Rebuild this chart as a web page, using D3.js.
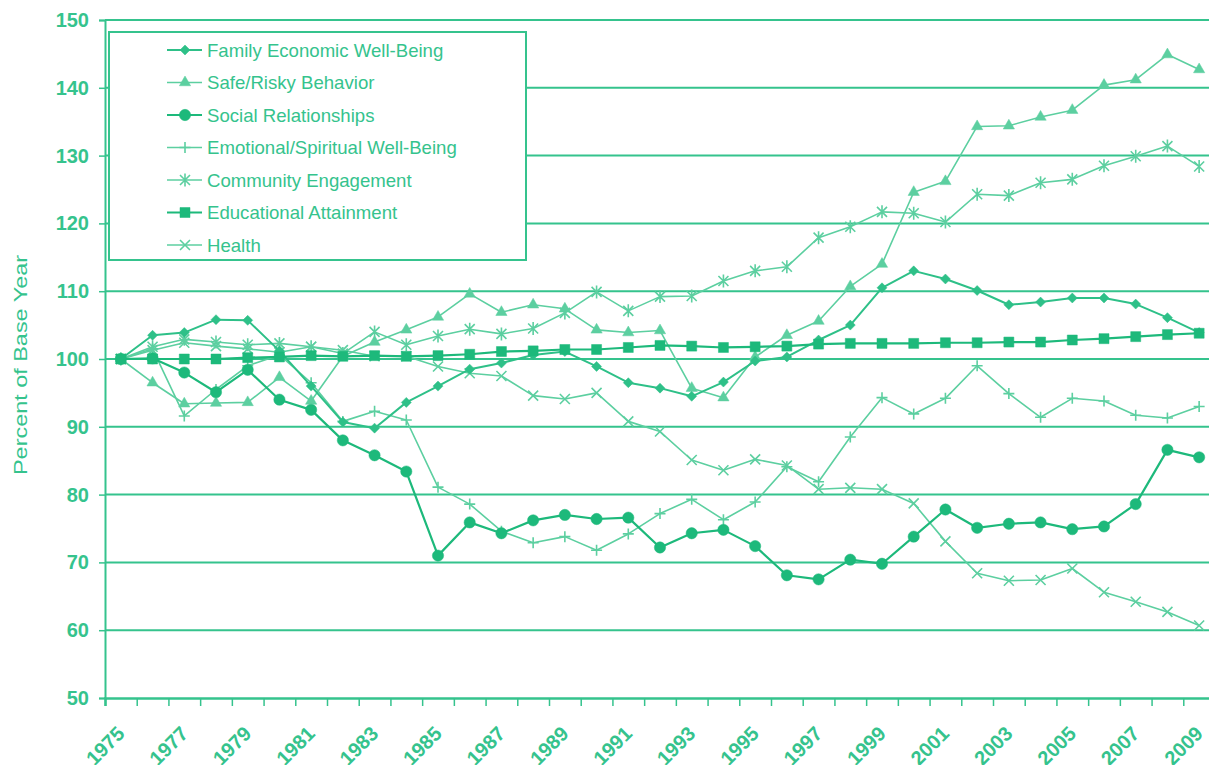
<!DOCTYPE html>
<html>
<head>
<meta charset="utf-8">
<script src="https://cdn.jsdelivr.net/npm/d3@7"></script>
<style>
  html, body { margin: 0; padding: 0; background: #fff; }
  svg { display: block; font-family: "Liberation Sans", Arial, sans-serif; }
</style>
</head>
<body>
<div class="chart"></div>
<script>
var svgWidth = 1209;
var svgHeight = 765;

// Data (percent of base year 1975)
var years = d3.range(1975, 2010);
var yTicks = [50, 60, 70, 80, 90, 100, 110, 120, 130, 140, 150];

var familyEconomic = [100, 103.5, 103.9, 105.8, 105.7, 101.2, 96.0, 90.7, 89.8, 93.6, 96.0, 98.5, 99.4, 100.6, 101.1, 98.9, 96.5, 95.7, 94.5, 96.6, 99.7, 100.3, 102.8, 105.0, 110.5, 113.0, 111.8, 110.1, 108.0, 108.4, 109.0, 109.0, 108.1, 106.1, 103.9];
var safeRisky = [100, 96.5, 93.4, 93.5, 93.6, 97.3, 93.8, 100.4, 102.5, 104.3, 106.2, 109.6, 106.9, 108.0, 107.4, 104.3, 103.9, 104.2, 95.7, 94.3, 100.3, 103.5, 105.6, 110.7, 114.0, 124.6, 126.2, 134.3, 134.4, 135.7, 136.7, 140.4, 141.2, 144.9, 142.7];
var socialRelationships = [100, 100.1, 98.0, 95.1, 98.4, 94.0, 92.5, 88.0, 85.8, 83.4, 71.0, 75.9, 74.3, 76.2, 77.0, 76.4, 76.6, 72.2, 74.3, 74.8, 72.4, 68.1, 67.5, 70.4, 69.8, 73.8, 77.8, 75.1, 75.7, 75.9, 74.9, 75.3, 78.6, 86.6, 85.5];
var emotionalSpiritual = [100, 101.5, 91.6, 95.5, 99.0, 100.6, 96.5, 90.8, 92.3, 91.0, 81.1, 78.6, 74.6, 72.9, 73.8, 71.8, 74.2, 77.2, 79.3, 76.3, 78.9, 84.1, 81.9, 88.5, 94.3, 91.9, 94.2, 99.0, 94.9, 91.4, 94.2, 93.8, 91.7, 91.3, 93.0];
var communityEngagement = [100, 101.8, 102.9, 102.5, 102.1, 102.3, 101.8, 100.8, 104.0, 102.1, 103.4, 104.4, 103.7, 104.5, 106.8, 109.9, 107.1, 109.2, 109.3, 111.5, 113.0, 113.6, 117.9, 119.5, 121.7, 121.5, 120.2, 124.3, 124.1, 126.0, 126.5, 128.5, 129.9, 131.4, 128.4];
var educationalAttainment = [100, 100.0, 100.0, 100.0, 100.2, 100.3, 100.5, 100.4, 100.5, 100.4, 100.5, 100.7, 101.1, 101.2, 101.4, 101.4, 101.7, 102.0, 101.9, 101.7, 101.8, 101.9, 102.2, 102.3, 102.3, 102.3, 102.4, 102.4, 102.5, 102.5, 102.8, 103.0, 103.3, 103.6, 103.8];
var health = [100, 101.3, 102.4, 101.9, 101.5, 101.0, 101.8, 101.3, 100.4, 100.4, 98.9, 97.9, 97.5, 94.6, 94.1, 95.0, 90.8, 89.3, 85.1, 83.6, 85.2, 84.3, 80.8, 81.0, 80.8, 78.7, 73.1, 68.4, 67.3, 67.4, 69.1, 65.6, 64.2, 62.7, 60.7];

var dark = "#1db97b";
var mid = "#2ec088";
var light = "#5ccfa0";
var axisColor = "#35c38d";

var paths = {
  diamond: "M0,-5L5,0L0,5L-5,0Z",
  plus: "M-5.5,0H5.5M0,-5.5V5.5",
  cross: "M-5,-5L5,5M-5,5L5,-5",
  star: "M-5,-5L5,5M-5,5L5,-5M0,-6.5V6.5"
};

var seriesList = [
  { name: "Family Economic Well-Being", values: familyEconomic, color: mid, width: 2, path: paths.diamond, fill: true },
  { name: "Safe/Risky Behavior", values: safeRisky, color: light, width: 1.6, sym: d3.symbolTriangle, size: 55, fill: true },
  { name: "Social Relationships", values: socialRelationships, color: dark, width: 2.2, sym: d3.symbolCircle, size: 100, fill: true },
  { name: "Emotional/Spiritual Well-Being", values: emotionalSpiritual, color: light, width: 1.6, path: paths.plus, fill: false },
  { name: "Community Engagement", values: communityEngagement, color: light, width: 1.6, path: paths.star, fill: false },
  { name: "Educational Attainment", values: educationalAttainment, color: dark, width: 2.2, sym: d3.symbolSquare, size: 100, fill: true },
  { name: "Health", values: health, color: light, width: 1.6, path: paths.cross, fill: false }
];

var plot = { left: 105, right: 1215, top: 20, bottom: 698 };

var svg = d3.select(".chart")
  .append("svg")
  .attr("width", svgWidth)
  .attr("height", svgHeight);

var x = d3.scaleLinear()
  .domain([years[0] - 0.5, years[years.length - 1] + 0.5])
  .range([plot.left, plot.right]);

var y = d3.scaleLinear()
  .domain([50, 150])
  .range([plot.bottom, plot.top]);

// gridlines
svg.append("g")
  .selectAll("line")
  .data(yTicks.slice(1))
  .enter()
  .append("line")
  .attr("x1", plot.left)
  .attr("x2", plot.right)
  .attr("y1", d => y(d))
  .attr("y2", d => y(d))
  .attr("stroke", axisColor)
  .attr("stroke-width", 2);

// y axis
var leftAxis = d3.axisLeft(y).tickValues(yTicks).tickSize(6).tickPadding(10);
var gy = svg.append("g")
  .attr("transform", `translate(${plot.left}, 0)`)
  .call(leftAxis);
gy.select(".domain").attr("stroke", axisColor).attr("stroke-width", 2);
gy.selectAll(".tick line").attr("stroke", axisColor).attr("stroke-width", 1.5);
gy.selectAll(".tick text")
  .attr("fill", axisColor)
  .attr("font-size", 20)
  .attr("font-weight", "bold")
  .attr("font-family", "Liberation Sans, Arial, sans-serif");

// x axis: ticks between categories
var boundaries = d3.range(years[0] - 0.5, years[years.length - 1] + 1, 1);
var bottomAxis = d3.axisBottom(x).tickValues(boundaries).tickSize(8).tickFormat("");
var gx = svg.append("g")
  .attr("transform", `translate(0, ${plot.bottom})`)
  .call(bottomAxis);
gx.select(".domain").attr("stroke", axisColor).attr("stroke-width", 2.5);
gx.selectAll(".tick line").attr("stroke", axisColor).attr("stroke-width", 1.5);

// x labels every other year
var labelYears = years.filter((d, i) => i % 2 === 0);
svg.append("g")
  .selectAll("text")
  .data(labelYears)
  .enter()
  .append("text")
  .attr("transform", d => `translate(${x(d) + 5}, ${plot.bottom + 37}) rotate(-45)`)
  .attr("text-anchor", "end")
  .attr("fill", axisColor)
  .attr("font-size", 20)
  .attr("font-weight", "bold")
  .text(d => d);

// y title
svg.append("text")
  .attr("transform", "translate(27, 365) rotate(-90)")
  .attr("text-anchor", "middle")
  .attr("fill", axisColor)
  .attr("font-size", 19)
  .attr("textLength", 220)
  .attr("lengthAdjust", "spacingAndGlyphs")
  .text("Percent of Base Year");

// lines and markers
var line = d3.line()
  .x((d, i) => x(years[i]))
  .y(d => y(d));

function markerPath(s) {
  return s.path ? s.path : d3.symbol().type(s.sym).size(s.size)();
}

var drawOrder = [6, 4, 3, 1, 0, 2, 5];
drawOrder.forEach(function(k) {
  var s = seriesList[k];
  var g = svg.append("g");
  g.append("path")
    .datum(s.values)
    .attr("d", line)
    .attr("fill", "none")
    .attr("stroke", s.color)
    .attr("stroke-width", s.width)
    .attr("stroke-linejoin", "round");
  g.selectAll("path.m")
    .data(s.values)
    .enter()
    .append("path")
    .attr("class", "m")
    .attr("transform", (d, i) => `translate(${x(years[i])}, ${y(d)})`)
    .attr("d", markerPath(s))
    .attr("fill", s.fill ? s.color : "none")
    .attr("stroke", s.color)
    .attr("stroke-width", s.fill ? 0.5 : 1.6);
});

// legend
var legend = svg.append("g");
legend.append("rect")
  .attr("x", 109)
  .attr("y", 32)
  .attr("width", 417)
  .attr("height", 228)
  .attr("fill", "#fff")
  .attr("stroke", axisColor)
  .attr("stroke-width", 2);

var items = legend.selectAll("g.item")
  .data(seriesList)
  .enter()
  .append("g")
  .attr("class", "item")
  .attr("transform", (d, i) => `translate(0, ${50 + i * 32.5})`);

items.append("line")
  .attr("x1", 167)
  .attr("x2", 202)
  .attr("stroke", d => d.color)
  .attr("stroke-width", d => d.width);

items.append("path")
  .attr("transform", "translate(185, 0)")
  .attr("d", d => markerPath(d))
  .attr("fill", d => d.fill ? d.color : "none")
  .attr("stroke", d => d.color)
  .attr("stroke-width", d => d.fill ? 0.5 : 1.6);

items.append("text")
  .attr("x", 207)
  .attr("dy", "0.36em")
  .attr("fill", axisColor)
  .attr("font-size", 18.6)
  .text(d => d.name);
</script>
</body>
</html>
